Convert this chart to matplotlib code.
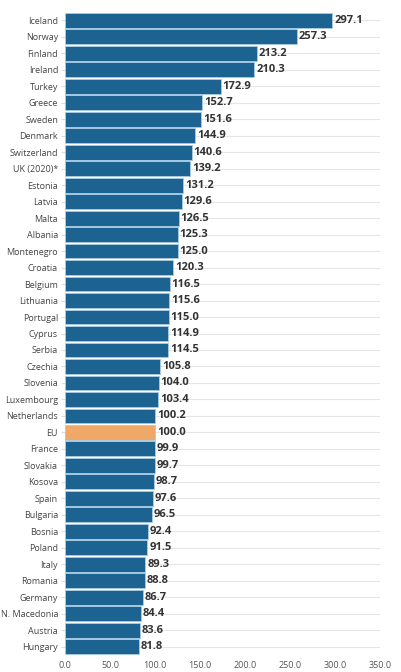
import matplotlib
matplotlib.use("Agg")
import matplotlib.pyplot as plt

countries = ["Iceland", "Norway", "Finland", "Ireland", "Turkey", "Greece", "Sweden",
             "Denmark", "Switzerland", "UK (2020)*", "Estonia", "Latvia", "Malta",
             "Albania", "Montenegro", "Croatia", "Belgium", "Lithuania", "Portugal",
             "Cyprus", "Serbia", "Czechia", "Slovenia", "Luxembourg", "Netherlands",
             "EU", "France", "Slovakia", "Kosova", "Spain", "Bulgaria", "Bosnia",
             "Poland", "Italy", "Romania", "Germany", "N. Macedonia", "Austria", "Hungary"]
values = [297.1, 257.3, 213.2, 210.3, 172.9, 152.7, 151.6, 144.9, 140.6, 139.2,
          131.2, 129.6, 126.5, 125.3, 125.0, 120.3, 116.5, 115.6, 115.0, 114.9,
          114.5, 105.8, 104.0, 103.4, 100.2, 100.0, 99.9, 99.7, 98.7, 97.6, 96.5,
          92.4, 91.5, 89.3, 88.8, 86.7, 84.4, 83.6, 81.8]
xticks = [0, 50, 100, 150, 200, 250, 300, 350]

plt.rcParams['font.family'] = ['Open Sans', 'DejaVu Sans']

fig = plt.figure(figsize=(4.01, 6.72), dpi=100)
ax = fig.add_axes([65/401, 17/672, (380-65)/401, (655-12)/672])

n = len(countries)
ypos = list(range(n))
colors = ["#f0a868" if c == "EU" else "#1d6391" for c in countries]
ax.barh(ypos, values, height=0.9, color=colors, edgecolor="#a9cbe3", linewidth=0.6, zorder=2)
for y, v in zip(ypos, values):
    ax.text(v + 2, y, f"{v:.1f}", va="center", ha="left", fontsize=8, fontweight="bold",
            color="#333333", zorder=3)

ax.set_ylim(n - 0.5, -0.5)
ax.set_xlim(0, 350)
ax.set_yticks(ypos)
ax.set_yticklabels(countries, fontsize=6.5, color="#444444")
ax.set_xticks(xticks)
ax.set_xticklabels([f"{t:.1f}" for t in xticks], fontsize=6.5, color="#555555")
ax.tick_params(axis="y", length=3, color="#dddddd", pad=2)
ax.tick_params(axis="x", length=0, pad=4)
ax.yaxis.grid(True, color="#e6e6e6", linewidth=0.8, zorder=0)
ax.xaxis.grid(False)
for s in ax.spines.values():
    s.set_visible(False)
ax.set_axisbelow(True)

fig.savefig("out.png", dpi=100)
